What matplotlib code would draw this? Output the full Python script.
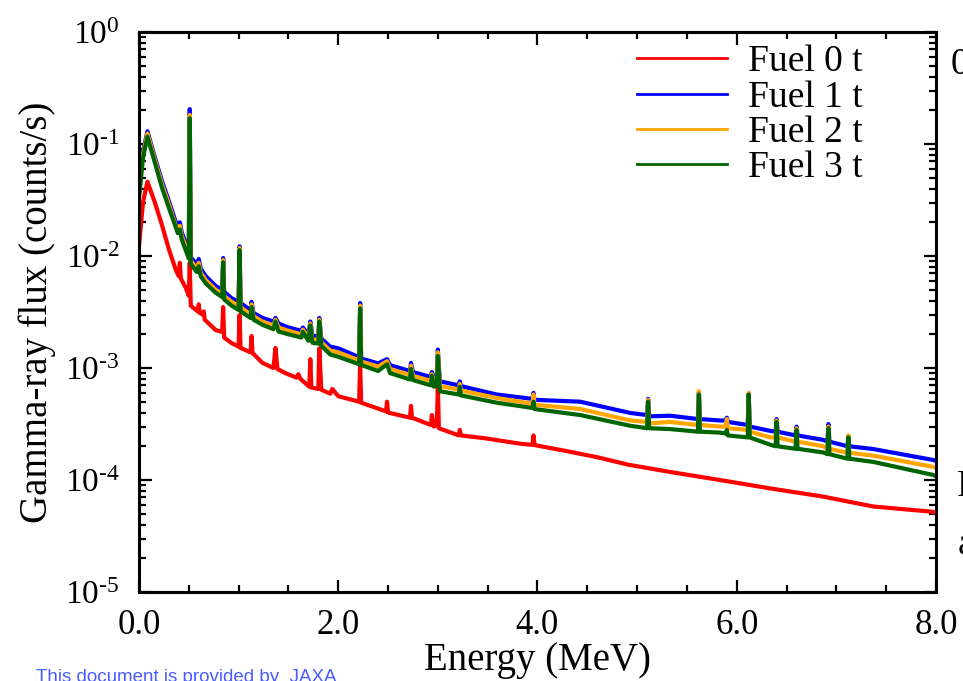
import matplotlib
matplotlib.use("Agg")
import matplotlib.pyplot as plt
from matplotlib.ticker import MultipleLocator, LogLocator, FuncFormatter, NullFormatter
import numpy as np

plt.rcParams['font.family'] = ['Liberation Serif', 'DejaVu Serif']
plt.rcParams['mathtext.fontset'] = 'custom'
plt.rcParams['mathtext.rm'] = 'Liberation Serif'

# Gamma-ray spectra (energy in MeV, flux in counts/s)
energy_0t = [0.00, 0.04, 0.085, 0.16, 0.23, 0.30, 0.37, 0.40, 0.41, 0.42, 0.47, 0.50, 0.51, 0.52,
             0.59, 0.60, 0.61, 0.64, 0.65, 0.66, 0.77, 0.835, 0.845, 0.855, 0.93, 1.00, 1.01, 1.02,
             1.12, 1.13, 1.14, 1.24, 1.35, 1.37, 1.39, 1.47, 1.58, 1.60, 1.62, 1.71, 1.72, 1.73,
             1.80, 1.81, 1.83, 1.92, 1.94, 2.00, 2.21, 2.22, 2.23, 2.48, 2.49, 2.50, 2.72, 2.73,
             2.74, 2.93, 2.94, 2.96, 2.99, 3.00, 3.01, 3.21, 3.22, 3.23, 3.47, 3.84, 3.95, 3.96,
             3.97, 4.28, 4.61, 4.91, 5.33, 5.83, 6.34, 6.87, 7.37, 7.97, 8.00]
flux_0t = [0.012, 0.030, 0.046, 0.030, 0.019, 0.0115, 0.0075, 0.0066, 0.0087, 0.0063, 0.0052,
           0.0044, 0.0087, 0.0036, 0.0032, 0.0037, 0.0031, 0.0030, 0.0032, 0.0027, 0.00218,
           0.0021, 0.0035, 0.00187, 0.00167, 0.00155, 0.00297, 0.00151, 0.00138, 0.00193,
           0.00136, 0.00111, 0.00100, 0.00151, 0.00098, 0.00090, 0.00082, 0.00088, 0.00080,
           0.00068, 0.00120, 0.00067, 0.00065, 0.00150, 0.00064, 0.00059, 0.00065, 0.00056,
           0.00050, 0.00110, 0.00049, 0.00041, 0.00050, 0.00040, 0.00036, 0.00046, 0.00036,
           0.00031, 0.00038, 0.00030, 0.00031, 0.00070, 0.00029, 0.00025, 0.00028, 0.00025,
           0.000236, 0.00021, 0.000206, 0.00025, 0.000205, 0.000182, 0.000159, 0.000137,
           0.000118, 0.00010, 8.4e-5, 7.1e-5, 5.8e-5, 5.2e-5, 5.0e-5]

energy_fuel = [0.00, 0.04, 0.085, 0.16, 0.23, 0.30, 0.37, 0.39, 0.41, 0.43, 0.50, 0.51, 0.52,
               0.58, 0.60, 0.62, 0.67, 0.77, 0.835, 0.845, 0.855, 0.93, 1.00, 1.01, 1.02, 1.12,
               1.13, 1.15, 1.24, 1.35, 1.37, 1.40, 1.50, 1.63, 1.645, 1.70, 1.72, 1.74, 1.80,
               1.81, 1.83, 1.92, 2.00, 2.21, 2.22, 2.23, 2.25, 2.40, 2.49, 2.52, 2.72, 2.73,
               2.75, 2.93, 2.94, 2.96, 2.99, 3.00, 3.02, 3.21, 3.22, 3.23, 3.59, 3.95, 3.96,
               3.97, 4.43, 4.93, 5.10, 5.11, 5.12, 5.33, 5.61, 5.62, 5.63, 5.83, 5.89, 5.90,
               5.91, 6.11, 6.12, 6.13, 6.34, 6.39, 6.40, 6.41, 6.59, 6.60, 6.61, 6.87, 6.91,
               6.92, 6.93, 7.11, 7.12, 7.13, 7.37, 7.97, 8.00]
flux_1t = [0.038, 0.085, 0.130, 0.076, 0.047, 0.031, 0.020, 0.0185, 0.0200, 0.0162, 0.0110,
           0.205, 0.0098, 0.0083, 0.0094, 0.0077, 0.0066, 0.0054, 0.0050, 0.0096, 0.0048,
           0.0042, 0.0039, 0.0122, 0.0038, 0.0033, 0.0039, 0.0031, 0.0028, 0.0026, 0.0028,
           0.0025, 0.0023, 0.00215, 0.0023, 0.0020, 0.0026, 0.00195, 0.0019, 0.0028, 0.00183,
           0.00155, 0.0015, 0.00125, 0.0038, 0.00122, 0.0012, 0.00110, 0.0012, 0.00106,
           0.00094, 0.00111, 0.00092, 0.00083, 0.00092, 0.00081, 0.00083, 0.00146, 0.00076,
           0.00070, 0.00076, 0.00069, 0.00058, 0.00053, 0.00060, 0.00052, 0.00050, 0.000397,
           0.00038, 0.00053, 0.00037, 0.000375, 0.00035, 0.00061, 0.00035, 0.00034, 0.00034,
           0.00036, 0.00033, 0.00031, 0.00059, 0.00030, 0.000274, 0.00027, 0.00035, 0.00027,
           0.00025, 0.00030, 0.00025, 0.000228, 0.00022, 0.000316, 0.00022, 0.00020, 0.00024,
           0.00020, 0.000189, 0.000151, 0.000148]
flux_2t = [0.035, 0.080, 0.124, 0.072, 0.044, 0.029, 0.0185, 0.0172, 0.0186, 0.0150, 0.0102,
           0.182, 0.0091, 0.0077, 0.0087, 0.0071, 0.0061, 0.0050, 0.0046, 0.0092, 0.0044,
           0.0039, 0.0036, 0.0118, 0.0035, 0.0030, 0.0037, 0.0029, 0.0026, 0.0024, 0.0027,
           0.0023, 0.00215, 0.0020, 0.0022, 0.00188, 0.0025, 0.0018, 0.00178, 0.0027, 0.0017,
           0.00143, 0.00138, 0.00117, 0.0036, 0.00115, 0.00113, 0.00103, 0.00115, 0.00098,
           0.00087, 0.00105, 0.00085, 0.00077, 0.00088, 0.00075, 0.00077, 0.00138, 0.00069,
           0.00064, 0.00072, 0.00063, 0.00054, 0.00048, 0.00058, 0.00047, 0.00043, 0.00034,
           0.00033, 0.00052, 0.00032, 0.00033, 0.00031, 0.00062, 0.00031, 0.00030, 0.00030,
           0.00035, 0.00029, 0.00028, 0.00060, 0.00027, 0.00024, 0.00024, 0.00034, 0.00024,
           0.00022, 0.00029, 0.00022, 0.00020, 0.00019, 0.00030, 0.00019, 0.000175, 0.00025,
           0.000175, 0.000165, 0.000131, 0.000128]
flux_3t = [0.032, 0.075, 0.116, 0.068, 0.041, 0.027, 0.018, 0.0160, 0.0172, 0.0140, 0.0095,
           0.170, 0.0085, 0.0072, 0.0081, 0.0066, 0.0057, 0.0047, 0.0043, 0.0088, 0.0041,
           0.0036, 0.0033, 0.0113, 0.0032, 0.0028, 0.0035, 0.0027, 0.00243, 0.00222, 0.0026,
           0.00212, 0.0020, 0.00187, 0.0021, 0.00175, 0.0024, 0.00168, 0.00165, 0.0026,
           0.00158, 0.00132, 0.00126, 0.00108, 0.0034, 0.00106, 0.00105, 0.00094, 0.00108,
           0.00090, 0.00079, 0.00098, 0.00078, 0.00070, 0.00085, 0.00068, 0.00070, 0.00128,
           0.00062, 0.00058, 0.00068, 0.00057, 0.00049, 0.00044, 0.00050, 0.00043, 0.00038,
           0.000305, 0.00029, 0.00050, 0.00029, 0.000285, 0.00027, 0.00058, 0.00027,
           0.000265, 0.00026, 0.00028, 0.00025, 0.00024, 0.00058, 0.00024, 0.000206, 0.00020,
           0.00033, 0.00020, 0.00019, 0.00028, 0.00019, 0.000176, 0.00017, 0.00029, 0.00017,
           0.000155, 0.00024, 0.000155, 0.000145, 0.000111, 0.000108]

labels = ['Fuel 0 t', 'Fuel 1 t', 'Fuel 2 t', 'Fuel 3 t']
colors = ['#ff0000', '#0000ff', '#ffa500', '#006400']

fig = plt.figure(figsize=(9.63, 6.81), dpi=100)
ax = fig.add_axes([0.1443, 0.1307, 0.8277, 0.8223])

ax.plot(energy_0t, flux_0t, color=colors[0], lw=3, label=labels[0])
ax.plot(energy_fuel, flux_1t, color=colors[1], lw=3, label=labels[1])
ax.plot(energy_fuel, flux_2t, color=colors[2], lw=3, label=labels[2])
ax.plot(energy_fuel, flux_3t, color=colors[3], lw=3, label=labels[3])

ax.set_yscale('log')
ax.set_xlim(0, 8)
ax.set_ylim(1e-5, 1)

ax.xaxis.set_major_locator(MultipleLocator(2))
ax.xaxis.set_minor_locator(MultipleLocator(0.5))
ax.xaxis.set_major_formatter(FuncFormatter(lambda v, p: '%.1f' % v))
ax.yaxis.set_major_locator(LogLocator(base=10, numticks=10))
ax.yaxis.set_minor_locator(LogLocator(base=10, subs=np.arange(2, 10), numticks=20))
ax.yaxis.set_minor_formatter(NullFormatter())


def decade_label(v, p):
    n = int(round(np.log10(v)))
    if n < 0:
        return r'$\mathregular{10^{\text{-}%d}}$' % (-n)
    return r'$\mathregular{10^{%d}}$' % n


ax.yaxis.set_major_formatter(FuncFormatter(decade_label))

for s in ax.spines.values():
    s.set_linewidth(2.2)
ax.tick_params(which='both', direction='in', top=True, right=True, width=1.6)
ax.tick_params(which='major', length=9)
ax.tick_params(which='minor', length=5)
ax.tick_params(axis='x', which='major', labelsize=25, pad=12)
ax.tick_params(axis='y', which='major', labelsize=24, pad=14)

ax.set_xlabel('Energy (MeV)', fontsize=28, labelpad=0)
ax.set_ylabel('Gamma-ray flux (counts/s)', fontsize=28, labelpad=6)

leg = ax.legend(loc='upper left', bbox_to_anchor=(0.625, 0.977), frameon=False,
                fontsize=27, handlelength=2.4, handletextpad=0.55,
                labelspacing=0.02, borderpad=0, borderaxespad=0)
for line in leg.get_lines():
    line.set_linewidth(2.0)

# text from the surrounding page, cut by the frame edge
fig.text(0.987, 0.905, '0', fontsize=27, ha='left', va='center')
fig.text(0.994, 0.285, 'F', fontsize=27, ha='left', va='center')
fig.text(0.994, 0.2, 'a', fontsize=27, ha='left', va='center')
fig.text(0.037, 0.017, 'This document is provided by  JAXA', fontsize=13.5,
         family='Liberation Sans', color='#4a5cff', ha='left', va='top')

fig.savefig('out.png', dpi=100)
